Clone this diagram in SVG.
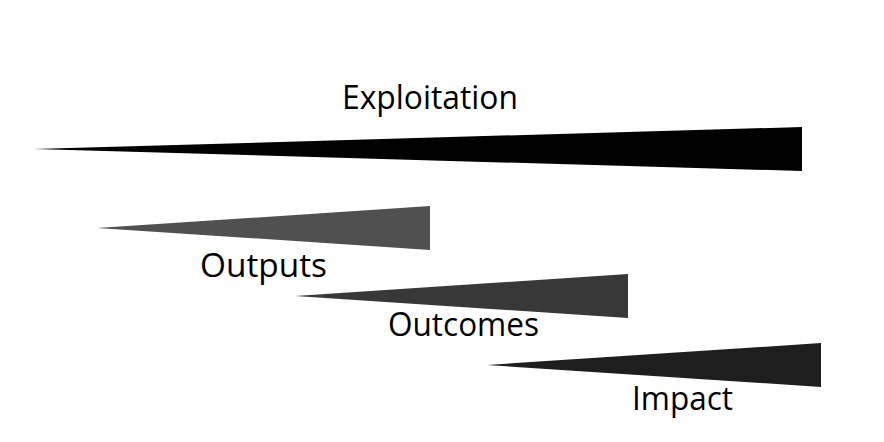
<svg xmlns="http://www.w3.org/2000/svg" width="884" height="442" viewBox="0 0 884 442">
<style>
.lbl{font-family:"Open Sans","Noto Sans","Liberation Sans",sans-serif;font-size:33px;fill:#000}
</style>
<rect width="884" height="442" fill="#fff"/>
<g id="exploitation">
<polygon points="34,149 802,127 802,171" fill="#000"/>
<text class="lbl" x="342" y="109" textLength="176" lengthAdjust="spacingAndGlyphs">Exploitation</text>
</g>
<g id="outputs">
<polygon points="97,228 430,206 430,250" fill="#505050"/>
<text class="lbl" x="200" y="277" textLength="127" lengthAdjust="spacingAndGlyphs">Outputs</text>
</g>
<g id="outcomes">
<polygon points="295,296 628,274 628,318" fill="#383838"/>
<text class="lbl" x="388" y="336" textLength="151" lengthAdjust="spacingAndGlyphs">Outcomes</text>
</g>
<g id="impact">
<polygon points="487,365 821,343 821,387" fill="#1e1e1e"/>
<text class="lbl" x="632" y="410" textLength="101" lengthAdjust="spacingAndGlyphs">Impact</text>
</g>
<g id="connectors"></g>
</svg>
